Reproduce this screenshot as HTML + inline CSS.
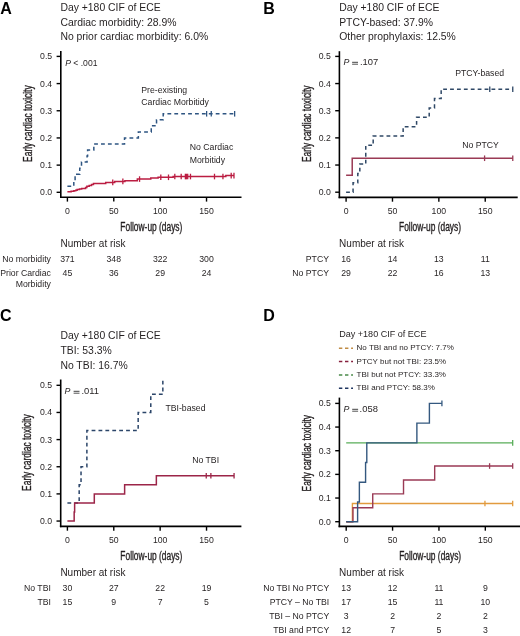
<!DOCTYPE html>
<html><head><meta charset="utf-8"><style>
html,body{margin:0;padding:0;background:#fff;}
body{width:520px;height:636px;overflow:hidden;}
svg{display:block;font-family:"Liberation Sans", sans-serif;will-change:transform;}
</style></head><body>
<svg width="520" height="636" viewBox="0 0 520 636">
<rect width="520" height="636" fill="#fff"/>
<text x="0.30" y="14.00" font-size="16" text-anchor="start" font-weight="bold" font-style="normal" fill="#000" >A</text>
<text x="60.40" y="10.60" font-size="10.4" text-anchor="start" font-weight="normal" font-style="normal" fill="#231f20" >Day +180 CIF of ECE</text>
<text x="60.40" y="25.50" font-size="10.4" text-anchor="start" font-weight="normal" font-style="normal" fill="#231f20" >Cardiac morbidity: 28.9%</text>
<text x="60.40" y="40.40" font-size="10.4" text-anchor="start" font-weight="normal" font-style="normal" fill="#231f20" >No prior cardiac morbidity: 6.0%</text>
<line x1="60.80" y1="51.00" x2="60.80" y2="198.10" stroke="#000" stroke-width="1.6" />
<line x1="60.00" y1="197.30" x2="241.50" y2="197.30" stroke="#000" stroke-width="1.6" />
<line x1="56.60" y1="192.30" x2="60.80" y2="192.30" stroke="#000" stroke-width="1.4" />
<text x="52.20" y="195.30" font-size="8.7" text-anchor="end" font-weight="normal" font-style="normal" fill="#231f20" >0.0</text>
<line x1="56.60" y1="165.12" x2="60.80" y2="165.12" stroke="#000" stroke-width="1.4" />
<text x="52.20" y="168.12" font-size="8.7" text-anchor="end" font-weight="normal" font-style="normal" fill="#231f20" >0.1</text>
<line x1="56.60" y1="137.94" x2="60.80" y2="137.94" stroke="#000" stroke-width="1.4" />
<text x="52.20" y="140.94" font-size="8.7" text-anchor="end" font-weight="normal" font-style="normal" fill="#231f20" >0.2</text>
<line x1="56.60" y1="110.76" x2="60.80" y2="110.76" stroke="#000" stroke-width="1.4" />
<text x="52.20" y="113.76" font-size="8.7" text-anchor="end" font-weight="normal" font-style="normal" fill="#231f20" >0.3</text>
<line x1="56.60" y1="83.58" x2="60.80" y2="83.58" stroke="#000" stroke-width="1.4" />
<text x="52.20" y="86.58" font-size="8.7" text-anchor="end" font-weight="normal" font-style="normal" fill="#231f20" >0.4</text>
<line x1="56.60" y1="56.40" x2="60.80" y2="56.40" stroke="#000" stroke-width="1.4" />
<text x="52.20" y="59.40" font-size="8.7" text-anchor="end" font-weight="normal" font-style="normal" fill="#231f20" >0.5</text>
<line x1="67.40" y1="197.30" x2="67.40" y2="201.60" stroke="#000" stroke-width="1.4" />
<text x="67.40" y="214.10" font-size="8.7" text-anchor="middle" font-weight="normal" font-style="normal" fill="#231f20" >0</text>
<line x1="113.78" y1="197.30" x2="113.78" y2="201.60" stroke="#000" stroke-width="1.4" />
<text x="113.78" y="214.10" font-size="8.7" text-anchor="middle" font-weight="normal" font-style="normal" fill="#231f20" >50</text>
<line x1="160.15" y1="197.30" x2="160.15" y2="201.60" stroke="#000" stroke-width="1.4" />
<text x="160.15" y="214.10" font-size="8.7" text-anchor="middle" font-weight="normal" font-style="normal" fill="#231f20" >100</text>
<line x1="206.53" y1="197.30" x2="206.53" y2="201.60" stroke="#000" stroke-width="1.4" />
<text x="206.53" y="214.10" font-size="8.7" text-anchor="middle" font-weight="normal" font-style="normal" fill="#231f20" >150</text>
<text transform="translate(151.34,230.90) scale(0.70,1)" font-size="12.0" text-anchor="middle" fill="#231f20" stroke="#231f20" stroke-width="0.35">Follow-up (days)</text>
<text transform="translate(31.60,123.65) rotate(-90) scale(0.70,1)" font-size="12.0" text-anchor="middle" fill="#231f20" stroke="#231f20" stroke-width="0.35">Early cardiac toxicity</text>
<text x="65.2" y="65.6" font-size="8.6" fill="#231f20"><tspan font-style="italic">P</tspan> &lt; .001</text>
<text x="141.30" y="93.00" font-size="8.7" text-anchor="start" font-weight="normal" font-style="normal" fill="#231f20" >Pre-existing</text>
<text x="141.30" y="105.10" font-size="8.7" text-anchor="start" font-weight="normal" font-style="normal" fill="#231f20" >Cardiac Morbitidy</text>
<text x="189.80" y="150.30" font-size="8.7" text-anchor="start" font-weight="normal" font-style="normal" fill="#231f20" >No Cardiac</text>
<text x="189.80" y="162.60" font-size="8.7" text-anchor="start" font-weight="normal" font-style="normal" fill="#231f20" >Morbitidy</text>
<path d="M67.40,186.26 H73.80 V180.22 H75.10 V174.18 H79.74 V168.14 H81.50 V162.10 H87.06 V156.06 H87.62 V150.02 H93.83 V143.98 H124.53 V137.94 H138.35 V131.90 H151.25 V125.86 H156.53 V119.82 H163.21 V113.78 H234.63" fill="none" stroke="#2e5582" stroke-width="1.5" stroke-dasharray="3.8,3.1" stroke-linejoin="miter"/>
<line x1="206.62" y1="110.98" x2="206.62" y2="116.58" stroke="#2e5582" stroke-width="1.3" />
<line x1="211.26" y1="110.98" x2="211.26" y2="116.58" stroke="#2e5582" stroke-width="1.3" />
<line x1="234.63" y1="110.98" x2="234.63" y2="116.58" stroke="#2e5582" stroke-width="1.3" />
<path d="M67.40,191.76 H71.11 V191.35 H73.89 V190.67 H75.75 V190.13 H77.14 V189.39 H79.46 V188.90 H81.68 V188.49 H85.58 V187.49 H86.88 V186.21 H89.20 V185.51 H91.52 V184.50 H93.46 V183.41 H105.71 V182.41 H114.70 V181.40 H124.91 V180.69 H137.33 V179.09 H150.78 V178.11 H158.11 V177.30 H173.13 V176.54 H225.82 V175.61 H233.98" fill="none" stroke="#bb1d42" stroke-width="1.5"  stroke-linejoin="miter"/>
<line x1="112.75" y1="179.61" x2="112.75" y2="185.21" stroke="#bb1d42" stroke-width="1.3" />
<line x1="122.86" y1="178.60" x2="122.86" y2="184.20" stroke="#bb1d42" stroke-width="1.3" />
<line x1="139.56" y1="176.29" x2="139.56" y2="181.89" stroke="#bb1d42" stroke-width="1.3" />
<line x1="160.80" y1="174.50" x2="160.80" y2="180.10" stroke="#bb1d42" stroke-width="1.3" />
<line x1="168.50" y1="174.50" x2="168.50" y2="180.10" stroke="#bb1d42" stroke-width="1.3" />
<line x1="174.80" y1="173.74" x2="174.80" y2="179.34" stroke="#bb1d42" stroke-width="1.3" />
<line x1="181.20" y1="173.74" x2="181.20" y2="179.34" stroke="#bb1d42" stroke-width="1.3" />
<line x1="185.38" y1="173.74" x2="185.38" y2="179.34" stroke="#bb1d42" stroke-width="1.3" />
<line x1="186.49" y1="173.74" x2="186.49" y2="179.34" stroke="#bb1d42" stroke-width="1.3" />
<line x1="187.70" y1="173.74" x2="187.70" y2="179.34" stroke="#bb1d42" stroke-width="1.3" />
<line x1="190.48" y1="173.74" x2="190.48" y2="179.34" stroke="#bb1d42" stroke-width="1.3" />
<line x1="214.50" y1="173.74" x2="214.50" y2="179.34" stroke="#bb1d42" stroke-width="1.3" />
<line x1="222.94" y1="173.74" x2="222.94" y2="179.34" stroke="#bb1d42" stroke-width="1.3" />
<line x1="231.20" y1="172.81" x2="231.20" y2="178.41" stroke="#bb1d42" stroke-width="1.3" />
<line x1="233.98" y1="172.81" x2="233.98" y2="178.41" stroke="#bb1d42" stroke-width="1.3" />
<text x="263.30" y="13.80" font-size="16" text-anchor="start" font-weight="bold" font-style="normal" fill="#000" >B</text>
<text x="339.20" y="10.60" font-size="10.4" text-anchor="start" font-weight="normal" font-style="normal" fill="#231f20" >Day +180 CIF of ECE</text>
<text x="339.20" y="25.50" font-size="10.4" text-anchor="start" font-weight="normal" font-style="normal" fill="#231f20" >PTCY-based: 37.9%</text>
<text x="339.20" y="40.40" font-size="10.4" text-anchor="start" font-weight="normal" font-style="normal" fill="#231f20" >Other prophylaxis: 12.5%</text>
<line x1="339.40" y1="51.20" x2="339.40" y2="198.20" stroke="#000" stroke-width="1.6" />
<line x1="338.60" y1="197.40" x2="517.70" y2="197.40" stroke="#000" stroke-width="1.6" />
<line x1="335.20" y1="192.20" x2="339.40" y2="192.20" stroke="#000" stroke-width="1.4" />
<text x="330.80" y="195.20" font-size="8.7" text-anchor="end" font-weight="normal" font-style="normal" fill="#231f20" >0.0</text>
<line x1="335.20" y1="165.04" x2="339.40" y2="165.04" stroke="#000" stroke-width="1.4" />
<text x="330.80" y="168.04" font-size="8.7" text-anchor="end" font-weight="normal" font-style="normal" fill="#231f20" >0.1</text>
<line x1="335.20" y1="137.88" x2="339.40" y2="137.88" stroke="#000" stroke-width="1.4" />
<text x="330.80" y="140.88" font-size="8.7" text-anchor="end" font-weight="normal" font-style="normal" fill="#231f20" >0.2</text>
<line x1="335.20" y1="110.72" x2="339.40" y2="110.72" stroke="#000" stroke-width="1.4" />
<text x="330.80" y="113.72" font-size="8.7" text-anchor="end" font-weight="normal" font-style="normal" fill="#231f20" >0.3</text>
<line x1="335.20" y1="83.56" x2="339.40" y2="83.56" stroke="#000" stroke-width="1.4" />
<text x="330.80" y="86.56" font-size="8.7" text-anchor="end" font-weight="normal" font-style="normal" fill="#231f20" >0.4</text>
<line x1="335.20" y1="56.40" x2="339.40" y2="56.40" stroke="#000" stroke-width="1.4" />
<text x="330.80" y="59.40" font-size="8.7" text-anchor="end" font-weight="normal" font-style="normal" fill="#231f20" >0.5</text>
<line x1="346.10" y1="197.40" x2="346.10" y2="201.70" stroke="#000" stroke-width="1.4" />
<text x="346.10" y="214.20" font-size="8.7" text-anchor="middle" font-weight="normal" font-style="normal" fill="#231f20" >0</text>
<line x1="392.48" y1="197.40" x2="392.48" y2="201.70" stroke="#000" stroke-width="1.4" />
<text x="392.48" y="214.20" font-size="8.7" text-anchor="middle" font-weight="normal" font-style="normal" fill="#231f20" >50</text>
<line x1="438.85" y1="197.40" x2="438.85" y2="201.70" stroke="#000" stroke-width="1.4" />
<text x="438.85" y="214.20" font-size="8.7" text-anchor="middle" font-weight="normal" font-style="normal" fill="#231f20" >100</text>
<line x1="485.23" y1="197.40" x2="485.23" y2="201.70" stroke="#000" stroke-width="1.4" />
<text x="485.23" y="214.20" font-size="8.7" text-anchor="middle" font-weight="normal" font-style="normal" fill="#231f20" >150</text>
<text transform="translate(430.04,231.00) scale(0.70,1)" font-size="12.0" text-anchor="middle" fill="#231f20" stroke="#231f20" stroke-width="0.35">Follow-up (days)</text>
<text transform="translate(310.60,123.75) rotate(-90) scale(0.70,1)" font-size="12.0" text-anchor="middle" fill="#231f20" stroke="#231f20" stroke-width="0.35">Early cardiac toxicity</text>
<text x="343.60" y="65.40" font-size="8.8" text-anchor="start" font-weight="normal" font-style="italic" fill="#231f20" >P</text>
<rect x="352.10" y="61.80" width="5.90" height="1.0" fill="#444"/>
<rect x="352.10" y="63.70" width="5.90" height="1.0" fill="#555"/>
<text x="360.00" y="65.40" font-size="9.4" text-anchor="start" font-weight="normal" font-style="normal" fill="#231f20" >.107</text>
<text x="455.20" y="75.60" font-size="8.7" text-anchor="start" font-weight="normal" font-style="normal" fill="#231f20" >PTCY-based</text>
<text x="462.20" y="147.90" font-size="8.7" text-anchor="start" font-weight="normal" font-style="normal" fill="#231f20" >No PTCY</text>
<path d="M346.10,192.20 H353.06 V182.83 H357.79 V173.47 H359.83 V164.10 H365.76 V145.37 H373.18 V136.01 H403.14 V126.64 H416.59 V117.28 H429.20 V107.91 H434.49 V98.54 H441.17 V89.18 H512.77" fill="none" stroke="#2f4866" stroke-width="1.5" stroke-dasharray="3.8,3.1" stroke-linejoin="miter"/>
<line x1="489.77" y1="86.38" x2="489.77" y2="91.98" stroke="#2f4866" stroke-width="1.3" />
<line x1="512.77" y1="86.38" x2="512.77" y2="91.98" stroke="#2f4866" stroke-width="1.3" />
<path d="M346.10,175.22 H352.22 V158.25 H512.77" fill="none" stroke="#9a3a55" stroke-width="1.5"  stroke-linejoin="miter"/>
<line x1="484.58" y1="155.45" x2="484.58" y2="161.05" stroke="#9a3a55" stroke-width="1.3" />
<line x1="512.77" y1="155.45" x2="512.77" y2="161.05" stroke="#9a3a55" stroke-width="1.3" />
<text x="0.10" y="321.00" font-size="16" text-anchor="start" font-weight="bold" font-style="normal" fill="#000" >C</text>
<text x="60.40" y="339.20" font-size="10.4" text-anchor="start" font-weight="normal" font-style="normal" fill="#231f20" >Day +180 CIF of ECE</text>
<text x="60.40" y="354.30" font-size="10.4" text-anchor="start" font-weight="normal" font-style="normal" fill="#231f20" >TBI: 53.3%</text>
<text x="60.40" y="369.40" font-size="10.4" text-anchor="start" font-weight="normal" font-style="normal" fill="#231f20" >No TBI: 16.7%</text>
<line x1="60.70" y1="379.50" x2="60.70" y2="527.20" stroke="#000" stroke-width="1.6" />
<line x1="59.90" y1="526.40" x2="241.40" y2="526.40" stroke="#000" stroke-width="1.6" />
<line x1="56.50" y1="521.05" x2="60.70" y2="521.05" stroke="#000" stroke-width="1.4" />
<text x="52.10" y="524.05" font-size="8.7" text-anchor="end" font-weight="normal" font-style="normal" fill="#231f20" >0.0</text>
<line x1="56.50" y1="493.90" x2="60.70" y2="493.90" stroke="#000" stroke-width="1.4" />
<text x="52.10" y="496.90" font-size="8.7" text-anchor="end" font-weight="normal" font-style="normal" fill="#231f20" >0.1</text>
<line x1="56.50" y1="466.75" x2="60.70" y2="466.75" stroke="#000" stroke-width="1.4" />
<text x="52.10" y="469.75" font-size="8.7" text-anchor="end" font-weight="normal" font-style="normal" fill="#231f20" >0.2</text>
<line x1="56.50" y1="439.60" x2="60.70" y2="439.60" stroke="#000" stroke-width="1.4" />
<text x="52.10" y="442.60" font-size="8.7" text-anchor="end" font-weight="normal" font-style="normal" fill="#231f20" >0.3</text>
<line x1="56.50" y1="412.45" x2="60.70" y2="412.45" stroke="#000" stroke-width="1.4" />
<text x="52.10" y="415.45" font-size="8.7" text-anchor="end" font-weight="normal" font-style="normal" fill="#231f20" >0.4</text>
<line x1="56.50" y1="385.30" x2="60.70" y2="385.30" stroke="#000" stroke-width="1.4" />
<text x="52.10" y="388.30" font-size="8.7" text-anchor="end" font-weight="normal" font-style="normal" fill="#231f20" >0.5</text>
<line x1="67.40" y1="526.40" x2="67.40" y2="530.70" stroke="#000" stroke-width="1.4" />
<text x="67.40" y="543.20" font-size="8.7" text-anchor="middle" font-weight="normal" font-style="normal" fill="#231f20" >0</text>
<line x1="113.78" y1="526.40" x2="113.78" y2="530.70" stroke="#000" stroke-width="1.4" />
<text x="113.78" y="543.20" font-size="8.7" text-anchor="middle" font-weight="normal" font-style="normal" fill="#231f20" >50</text>
<line x1="160.15" y1="526.40" x2="160.15" y2="530.70" stroke="#000" stroke-width="1.4" />
<text x="160.15" y="543.20" font-size="8.7" text-anchor="middle" font-weight="normal" font-style="normal" fill="#231f20" >100</text>
<line x1="206.53" y1="526.40" x2="206.53" y2="530.70" stroke="#000" stroke-width="1.4" />
<text x="206.53" y="543.20" font-size="8.7" text-anchor="middle" font-weight="normal" font-style="normal" fill="#231f20" >150</text>
<text transform="translate(151.34,560.00) scale(0.70,1)" font-size="12.0" text-anchor="middle" fill="#231f20" stroke="#231f20" stroke-width="0.35">Follow-up (days)</text>
<text transform="translate(31.20,452.65) rotate(-90) scale(0.70,1)" font-size="12.0" text-anchor="middle" fill="#231f20" stroke="#231f20" stroke-width="0.35">Early cardiac toxicity</text>
<text x="64.50" y="394.40" font-size="8.8" text-anchor="start" font-weight="normal" font-style="italic" fill="#231f20" >P</text>
<rect x="73.60" y="390.80" width="5.90" height="1.0" fill="#444"/>
<rect x="73.60" y="392.70" width="5.90" height="1.0" fill="#555"/>
<text x="81.40" y="394.40" font-size="9.4" text-anchor="start" font-weight="normal" font-style="normal" fill="#231f20" >.011</text>
<text x="165.40" y="411.30" font-size="8.7" text-anchor="start" font-weight="normal" font-style="normal" fill="#231f20" >TBI-based</text>
<text x="192.20" y="462.70" font-size="8.7" text-anchor="start" font-weight="normal" font-style="normal" fill="#231f20" >No TBI</text>
<path d="M67.40,502.95 H79.18 V484.85 H81.03 V466.75 H86.88 V430.55 H138.17 V412.45 H150.78 V394.35 H162.84 V379.60 H162.84" fill="none" stroke="#2b4569" stroke-width="1.5" stroke-dasharray="3.8,3.1" stroke-linejoin="miter"/>
<path d="M67.40,521.05 H74.17 V512.00 H74.63 V502.95 H94.30 V493.90 H124.63 V484.85 H156.35 V475.80 H234.07" fill="none" stroke="#9c2548" stroke-width="1.5"  stroke-linejoin="miter"/>
<line x1="206.25" y1="473.00" x2="206.25" y2="478.60" stroke="#9c2548" stroke-width="1.3" />
<line x1="210.88" y1="473.00" x2="210.88" y2="478.60" stroke="#9c2548" stroke-width="1.3" />
<line x1="234.07" y1="473.00" x2="234.07" y2="478.60" stroke="#9c2548" stroke-width="1.3" />
<text x="263.30" y="320.80" font-size="16" text-anchor="start" font-weight="bold" font-style="normal" fill="#000" >D</text>
<text x="339.20" y="337.10" font-size="9.05" text-anchor="start" font-weight="normal" font-style="normal" fill="#231f20" >Day +180 CIF of ECE</text>
<text x="356.60" y="350.40" font-size="8.0" text-anchor="start" font-weight="normal" font-style="normal" fill="#231f20" >No TBI and no PTCY: 7.7%</text>
<line x1="338.90" y1="348.20" x2="353.00" y2="348.20" stroke="#c08c45" stroke-width="1.5" stroke-dasharray="3.4,2.7"/>
<text x="356.60" y="363.75" font-size="8.0" text-anchor="start" font-weight="normal" font-style="normal" fill="#231f20" >PTCY but not TBI: 23.5%</text>
<line x1="338.90" y1="361.55" x2="353.00" y2="361.55" stroke="#86203e" stroke-width="1.5" stroke-dasharray="3.4,2.7"/>
<text x="356.60" y="377.10" font-size="8.0" text-anchor="start" font-weight="normal" font-style="normal" fill="#231f20" >TBI but not PTCY: 33.3%</text>
<line x1="338.90" y1="374.90" x2="353.00" y2="374.90" stroke="#4a8a4a" stroke-width="1.5" stroke-dasharray="3.4,2.7"/>
<text x="356.60" y="390.45" font-size="8.0" text-anchor="start" font-weight="normal" font-style="normal" fill="#231f20" >TBI and PTCY: 58.3%</text>
<line x1="338.90" y1="388.25" x2="353.00" y2="388.25" stroke="#1f3560" stroke-width="1.5" stroke-dasharray="3.4,2.7"/>
<line x1="339.40" y1="397.60" x2="339.40" y2="527.20" stroke="#000" stroke-width="1.6" />
<line x1="338.60" y1="526.40" x2="521.00" y2="526.40" stroke="#000" stroke-width="1.6" />
<line x1="335.20" y1="521.70" x2="339.40" y2="521.70" stroke="#000" stroke-width="1.4" />
<text x="330.80" y="524.70" font-size="8.7" text-anchor="end" font-weight="normal" font-style="normal" fill="#231f20" >0.0</text>
<line x1="335.20" y1="498.04" x2="339.40" y2="498.04" stroke="#000" stroke-width="1.4" />
<text x="330.80" y="501.04" font-size="8.7" text-anchor="end" font-weight="normal" font-style="normal" fill="#231f20" >0.1</text>
<line x1="335.20" y1="474.38" x2="339.40" y2="474.38" stroke="#000" stroke-width="1.4" />
<text x="330.80" y="477.38" font-size="8.7" text-anchor="end" font-weight="normal" font-style="normal" fill="#231f20" >0.2</text>
<line x1="335.20" y1="450.72" x2="339.40" y2="450.72" stroke="#000" stroke-width="1.4" />
<text x="330.80" y="453.72" font-size="8.7" text-anchor="end" font-weight="normal" font-style="normal" fill="#231f20" >0.3</text>
<line x1="335.20" y1="427.06" x2="339.40" y2="427.06" stroke="#000" stroke-width="1.4" />
<text x="330.80" y="430.06" font-size="8.7" text-anchor="end" font-weight="normal" font-style="normal" fill="#231f20" >0.4</text>
<line x1="335.20" y1="403.40" x2="339.40" y2="403.40" stroke="#000" stroke-width="1.4" />
<text x="330.80" y="406.40" font-size="8.7" text-anchor="end" font-weight="normal" font-style="normal" fill="#231f20" >0.5</text>
<line x1="346.20" y1="526.40" x2="346.20" y2="530.70" stroke="#000" stroke-width="1.4" />
<text x="346.20" y="543.20" font-size="8.7" text-anchor="middle" font-weight="normal" font-style="normal" fill="#231f20" >0</text>
<line x1="392.57" y1="526.40" x2="392.57" y2="530.70" stroke="#000" stroke-width="1.4" />
<text x="392.57" y="543.20" font-size="8.7" text-anchor="middle" font-weight="normal" font-style="normal" fill="#231f20" >50</text>
<line x1="438.95" y1="526.40" x2="438.95" y2="530.70" stroke="#000" stroke-width="1.4" />
<text x="438.95" y="543.20" font-size="8.7" text-anchor="middle" font-weight="normal" font-style="normal" fill="#231f20" >100</text>
<line x1="485.32" y1="526.40" x2="485.32" y2="530.70" stroke="#000" stroke-width="1.4" />
<text x="485.32" y="543.20" font-size="8.7" text-anchor="middle" font-weight="normal" font-style="normal" fill="#231f20" >150</text>
<text transform="translate(430.14,560.00) scale(0.70,1)" font-size="12.0" text-anchor="middle" fill="#231f20" stroke="#231f20" stroke-width="0.35">Follow-up (days)</text>
<text transform="translate(310.60,453.20) rotate(-90) scale(0.70,1)" font-size="12.0" text-anchor="middle" fill="#231f20" stroke="#231f20" stroke-width="0.35">Early cardiac toxicity</text>
<text x="343.60" y="412.40" font-size="8.8" text-anchor="start" font-weight="normal" font-style="italic" fill="#231f20" >P</text>
<rect x="352.20" y="408.80" width="5.90" height="1.0" fill="#444"/>
<rect x="352.20" y="410.70" width="5.90" height="1.0" fill="#555"/>
<text x="359.60" y="412.40" font-size="9.4" text-anchor="start" font-weight="normal" font-style="normal" fill="#231f20" >.058</text>
<path d="M346.20,521.70 H352.41 V503.50 H512.69" fill="none" stroke="#e29b3e" stroke-width="1.4"  stroke-linejoin="miter"/>
<line x1="484.95" y1="500.70" x2="484.95" y2="506.30" stroke="#e29b3e" stroke-width="1.3" />
<line x1="512.69" y1="500.70" x2="512.69" y2="506.30" stroke="#e29b3e" stroke-width="1.3" />
<path d="M346.20,442.83 H512.69" fill="none" stroke="#58ad58" stroke-width="1.4"  stroke-linejoin="miter"/>
<line x1="512.69" y1="440.03" x2="512.69" y2="445.63" stroke="#58ad58" stroke-width="1.3" />
<path d="M346.20,521.70 H352.97 V507.78 H372.73 V493.86 H403.52 V479.95 H434.68 V466.03 H512.69" fill="none" stroke="#9a3a55" stroke-width="1.4"  stroke-linejoin="miter"/>
<line x1="489.59" y1="463.23" x2="489.59" y2="468.83" stroke="#9a3a55" stroke-width="1.3" />
<line x1="512.69" y1="463.23" x2="512.69" y2="468.83" stroke="#9a3a55" stroke-width="1.3" />
<path d="M346.20,521.70 H357.61 V501.98 H359.37 V482.27 H365.58 V462.55 H366.79 V442.83 H416.88 V423.12 H429.40 V403.40 H441.92" fill="none" stroke="#34587f" stroke-width="1.4"  stroke-linejoin="miter"/>
<line x1="441.92" y1="400.60" x2="441.92" y2="406.20" stroke="#34587f" stroke-width="1.3" />
<text x="60.50" y="247.30" font-size="10.0" text-anchor="start" font-weight="normal" font-style="normal" fill="#231f20" >Number at risk</text>
<text x="50.90" y="261.90" font-size="8.7" text-anchor="end" font-weight="normal" font-style="normal" fill="#231f20" >No morbidity</text>
<text x="67.40" y="261.90" font-size="8.7" text-anchor="middle" font-weight="normal" font-style="normal" fill="#231f20" >371</text>
<text x="113.78" y="261.90" font-size="8.7" text-anchor="middle" font-weight="normal" font-style="normal" fill="#231f20" >348</text>
<text x="160.15" y="261.90" font-size="8.7" text-anchor="middle" font-weight="normal" font-style="normal" fill="#231f20" >322</text>
<text x="206.53" y="261.90" font-size="8.7" text-anchor="middle" font-weight="normal" font-style="normal" fill="#231f20" >300</text>
<text x="50.90" y="276.20" font-size="8.7" text-anchor="end" font-weight="normal" font-style="normal" fill="#231f20" >Prior Cardiac</text>
<text x="50.90" y="286.60" font-size="8.7" text-anchor="end" font-weight="normal" font-style="normal" fill="#231f20" >Morbidity</text>
<text x="67.40" y="276.20" font-size="8.7" text-anchor="middle" font-weight="normal" font-style="normal" fill="#231f20" >45</text>
<text x="113.78" y="276.20" font-size="8.7" text-anchor="middle" font-weight="normal" font-style="normal" fill="#231f20" >36</text>
<text x="160.15" y="276.20" font-size="8.7" text-anchor="middle" font-weight="normal" font-style="normal" fill="#231f20" >29</text>
<text x="206.53" y="276.20" font-size="8.7" text-anchor="middle" font-weight="normal" font-style="normal" fill="#231f20" >24</text>
<text x="339.10" y="247.30" font-size="10.0" text-anchor="start" font-weight="normal" font-style="normal" fill="#231f20" >Number at risk</text>
<text x="329.00" y="261.90" font-size="8.7" text-anchor="end" font-weight="normal" font-style="normal" fill="#231f20" >PTCY</text>
<text x="346.10" y="261.90" font-size="8.7" text-anchor="middle" font-weight="normal" font-style="normal" fill="#231f20" >16</text>
<text x="392.48" y="261.90" font-size="8.7" text-anchor="middle" font-weight="normal" font-style="normal" fill="#231f20" >14</text>
<text x="438.85" y="261.90" font-size="8.7" text-anchor="middle" font-weight="normal" font-style="normal" fill="#231f20" >13</text>
<text x="485.23" y="261.90" font-size="8.7" text-anchor="middle" font-weight="normal" font-style="normal" fill="#231f20" >11</text>
<text x="329.00" y="276.20" font-size="8.7" text-anchor="end" font-weight="normal" font-style="normal" fill="#231f20" >No PTCY</text>
<text x="346.10" y="276.20" font-size="8.7" text-anchor="middle" font-weight="normal" font-style="normal" fill="#231f20" >29</text>
<text x="392.48" y="276.20" font-size="8.7" text-anchor="middle" font-weight="normal" font-style="normal" fill="#231f20" >22</text>
<text x="438.85" y="276.20" font-size="8.7" text-anchor="middle" font-weight="normal" font-style="normal" fill="#231f20" >16</text>
<text x="485.23" y="276.20" font-size="8.7" text-anchor="middle" font-weight="normal" font-style="normal" fill="#231f20" >13</text>
<text x="60.40" y="575.50" font-size="10.0" text-anchor="start" font-weight="normal" font-style="normal" fill="#231f20" >Number at risk</text>
<text x="50.90" y="590.50" font-size="8.7" text-anchor="end" font-weight="normal" font-style="normal" fill="#231f20" >No TBI</text>
<text x="67.40" y="590.50" font-size="8.7" text-anchor="middle" font-weight="normal" font-style="normal" fill="#231f20" >30</text>
<text x="113.78" y="590.50" font-size="8.7" text-anchor="middle" font-weight="normal" font-style="normal" fill="#231f20" >27</text>
<text x="160.15" y="590.50" font-size="8.7" text-anchor="middle" font-weight="normal" font-style="normal" fill="#231f20" >22</text>
<text x="206.53" y="590.50" font-size="8.7" text-anchor="middle" font-weight="normal" font-style="normal" fill="#231f20" >19</text>
<text x="50.90" y="604.70" font-size="8.7" text-anchor="end" font-weight="normal" font-style="normal" fill="#231f20" >TBI</text>
<text x="67.40" y="604.70" font-size="8.7" text-anchor="middle" font-weight="normal" font-style="normal" fill="#231f20" >15</text>
<text x="113.78" y="604.70" font-size="8.7" text-anchor="middle" font-weight="normal" font-style="normal" fill="#231f20" >9</text>
<text x="160.15" y="604.70" font-size="8.7" text-anchor="middle" font-weight="normal" font-style="normal" fill="#231f20" >7</text>
<text x="206.53" y="604.70" font-size="8.7" text-anchor="middle" font-weight="normal" font-style="normal" fill="#231f20" >5</text>
<text x="339.10" y="575.50" font-size="10.0" text-anchor="start" font-weight="normal" font-style="normal" fill="#231f20" >Number at risk</text>
<text x="329.20" y="590.80" font-size="8.7" text-anchor="end" font-weight="normal" font-style="normal" fill="#231f20" >No TBI No PTCY</text>
<text x="346.20" y="590.80" font-size="8.7" text-anchor="middle" font-weight="normal" font-style="normal" fill="#231f20" >13</text>
<text x="392.57" y="590.80" font-size="8.7" text-anchor="middle" font-weight="normal" font-style="normal" fill="#231f20" >12</text>
<text x="438.95" y="590.80" font-size="8.7" text-anchor="middle" font-weight="normal" font-style="normal" fill="#231f20" >11</text>
<text x="485.32" y="590.80" font-size="8.7" text-anchor="middle" font-weight="normal" font-style="normal" fill="#231f20" >9</text>
<text x="329.20" y="605.00" font-size="8.7" text-anchor="end" font-weight="normal" font-style="normal" fill="#231f20" >PTCY – No TBI</text>
<text x="346.20" y="605.00" font-size="8.7" text-anchor="middle" font-weight="normal" font-style="normal" fill="#231f20" >17</text>
<text x="392.57" y="605.00" font-size="8.7" text-anchor="middle" font-weight="normal" font-style="normal" fill="#231f20" >15</text>
<text x="438.95" y="605.00" font-size="8.7" text-anchor="middle" font-weight="normal" font-style="normal" fill="#231f20" >11</text>
<text x="485.32" y="605.00" font-size="8.7" text-anchor="middle" font-weight="normal" font-style="normal" fill="#231f20" >10</text>
<text x="329.20" y="619.20" font-size="8.7" text-anchor="end" font-weight="normal" font-style="normal" fill="#231f20" >TBI – No PTCY</text>
<text x="346.20" y="619.20" font-size="8.7" text-anchor="middle" font-weight="normal" font-style="normal" fill="#231f20" >3</text>
<text x="392.57" y="619.20" font-size="8.7" text-anchor="middle" font-weight="normal" font-style="normal" fill="#231f20" >2</text>
<text x="438.95" y="619.20" font-size="8.7" text-anchor="middle" font-weight="normal" font-style="normal" fill="#231f20" >2</text>
<text x="485.32" y="619.20" font-size="8.7" text-anchor="middle" font-weight="normal" font-style="normal" fill="#231f20" >2</text>
<text x="329.20" y="633.20" font-size="8.7" text-anchor="end" font-weight="normal" font-style="normal" fill="#231f20" >TBI and PTCY</text>
<text x="346.20" y="633.20" font-size="8.7" text-anchor="middle" font-weight="normal" font-style="normal" fill="#231f20" >12</text>
<text x="392.57" y="633.20" font-size="8.7" text-anchor="middle" font-weight="normal" font-style="normal" fill="#231f20" >7</text>
<text x="438.95" y="633.20" font-size="8.7" text-anchor="middle" font-weight="normal" font-style="normal" fill="#231f20" >5</text>
<text x="485.32" y="633.20" font-size="8.7" text-anchor="middle" font-weight="normal" font-style="normal" fill="#231f20" >3</text>
</svg>
</body></html>
